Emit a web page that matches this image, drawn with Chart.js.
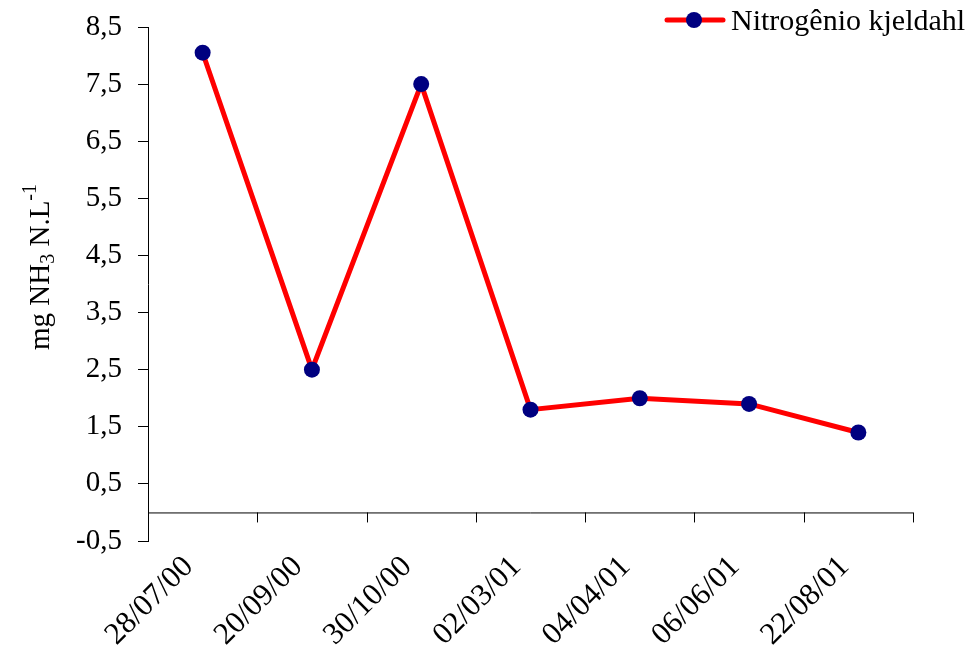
<!DOCTYPE html>
<html>
<head>
<meta charset="utf-8">
<script src="https://cdn.jsdelivr.net/npm/chart.js@4.4.1/dist/chart.umd.min.js"></script>
<style>
  html, body { margin: 0; padding: 0; background: #fff; }
  #wrap { width: 968px; height: 650px; }
</style>
</head>
<body>
<div id="wrap"><canvas id="graphCanvas"></canvas></div>
<script>
const categories = ['28/07/00', '20/09/00', '30/10/00', '02/03/01', '04/04/01', '06/06/01', '22/08/01'];
const nitrogenValues = [8.05, 2.5, 7.5, 1.8, 2.0, 1.9, 1.4];
const yTicks = [-0.5, 0.5, 1.5, 2.5, 3.5, 4.5, 5.5, 6.5, 7.5, 8.5];
const seriesLabel = 'Nitrogênio kjeldahl';

const FONT = '"Liberation Serif", "Times New Roman", serif';

// x axis line sits at y = 0, with tick marks between categories
const zeroAxis = {
    id: 'zeroAxis',
    beforeDatasetsDraw(chart) {
        const { ctx, chartArea, scales } = chart;
        const y0 = scales.y.getPixelForValue(0);
        const n = categories.length;
        ctx.save();
        ctx.strokeStyle = '#000';
        ctx.lineWidth = 1;
        ctx.beginPath();
        ctx.moveTo(chartArea.left, y0 + 0.5);
        ctx.lineTo(chartArea.right, y0 + 0.5);
        for (let i = 1; i <= n; i++) {
            const x = Math.round(chartArea.left + (chartArea.right - chartArea.left) * i / n) + 0.5;
            ctx.moveTo(x, y0);
            ctx.lineTo(x, y0 + 10);
        }
        ctx.stroke();
        ctx.restore();
    }
};

// y title with subscript / superscript, and the legend
const extras = {
    id: 'extras',
    afterDraw(chart) {
        const { ctx, chartArea } = chart;
        ctx.save();
        // y axis title
        const parts = [
            { t: 'mg NH', size: 29, dy: 0 },
            { t: '3', size: 20, dy: 5 },
            { t: ' N.L', size: 29, dy: 0 },
            { t: '-1', size: 20, dy: -13 }
        ];
        let total = 0;
        parts.forEach(p => {
            ctx.font = p.size + 'px ' + FONT;
            p.w = ctx.measureText(p.t).width;
            total += p.w;
        });
        ctx.translate(49, (chartArea.top + chartArea.bottom) / 2 - 17);
        ctx.rotate(-Math.PI / 2);
        ctx.fillStyle = '#000';
        ctx.textBaseline = 'alphabetic';
        let x = -total / 2;
        parts.forEach(p => {
            ctx.font = p.size + 'px ' + FONT;
            ctx.fillText(p.t, x, p.dy);
            x += p.w;
        });
        ctx.restore();

        // legend
        ctx.save();
        const ly = 20;
        ctx.strokeStyle = '#ff0000';
        ctx.lineWidth = 5;
        ctx.lineCap = 'round';
        ctx.beginPath();
        ctx.moveTo(667, ly);
        ctx.lineTo(723, ly);
        ctx.stroke();
        ctx.fillStyle = '#000080';
        ctx.beginPath();
        ctx.arc(694, ly, 8, 0, Math.PI * 2);
        ctx.fill();
        ctx.fillStyle = '#000';
        ctx.font = '30px ' + FONT;
        ctx.textBaseline = 'middle';
        ctx.fillText(seriesLabel, 731, ly + 2);
        ctx.restore();
    }
};

const ctx = document.getElementById('graphCanvas');

new Chart(ctx, {
    type: 'line',
    data: {
        labels: categories,
        datasets: [{
            label: seriesLabel,
            data: nitrogenValues,
            borderColor: '#ff0000',
            borderWidth: 5,
            tension: 0,
            pointRadius: 8,
            pointHoverRadius: 8,
            pointBackgroundColor: '#000080',
            pointBorderColor: '#000080',
            pointBorderWidth: 0
        }]
    },
    options: {
        responsive: true,
        maintainAspectRatio: false,
        animation: false,
        events: [],
        layout: {
            padding: { top: 27, right: 55, left: 0, bottom: 0 }
        },
        plugins: {
            legend: { display: false },
            tooltip: { enabled: false }
        },
        scales: {
            x: {
                type: 'category',
                offset: true,
                grid: { display: false },
                border: { display: false },
                ticks: {
                    color: '#000',
                    font: { family: FONT, size: 31 },
                    minRotation: 45,
                    maxRotation: 45,
                    padding: 0,
                    labelOffset: -14,
                    autoSkip: false
                },
                afterFit(scale) { scale.height = 109; }
            },
            y: {
                min: -0.5,
                max: 8.5,
                afterBuildTicks(scale) {
                    scale.ticks = yTicks.map(v => ({ value: v }));
                },
                grid: {
                    drawOnChartArea: false,
                    drawTicks: true,
                    tickLength: 10,
                    color: '#000'
                },
                border: { display: true, color: '#000', width: 1 },
                ticks: {
                    color: '#000',
                    font: { family: FONT, size: 29 },
                    padding: 16,
                    callback: v => v.toFixed(1).replace('.', ',')
                },
                afterFit(scale) {
                    scale.width = 148;
                    // label overhang is covered by the layout padding
                    scale.paddingTop = 0;
                    scale.paddingBottom = 0;
                }
            }
        }
    },
    plugins: [zeroAxis, extras]
});
</script>
</body>
</html>
